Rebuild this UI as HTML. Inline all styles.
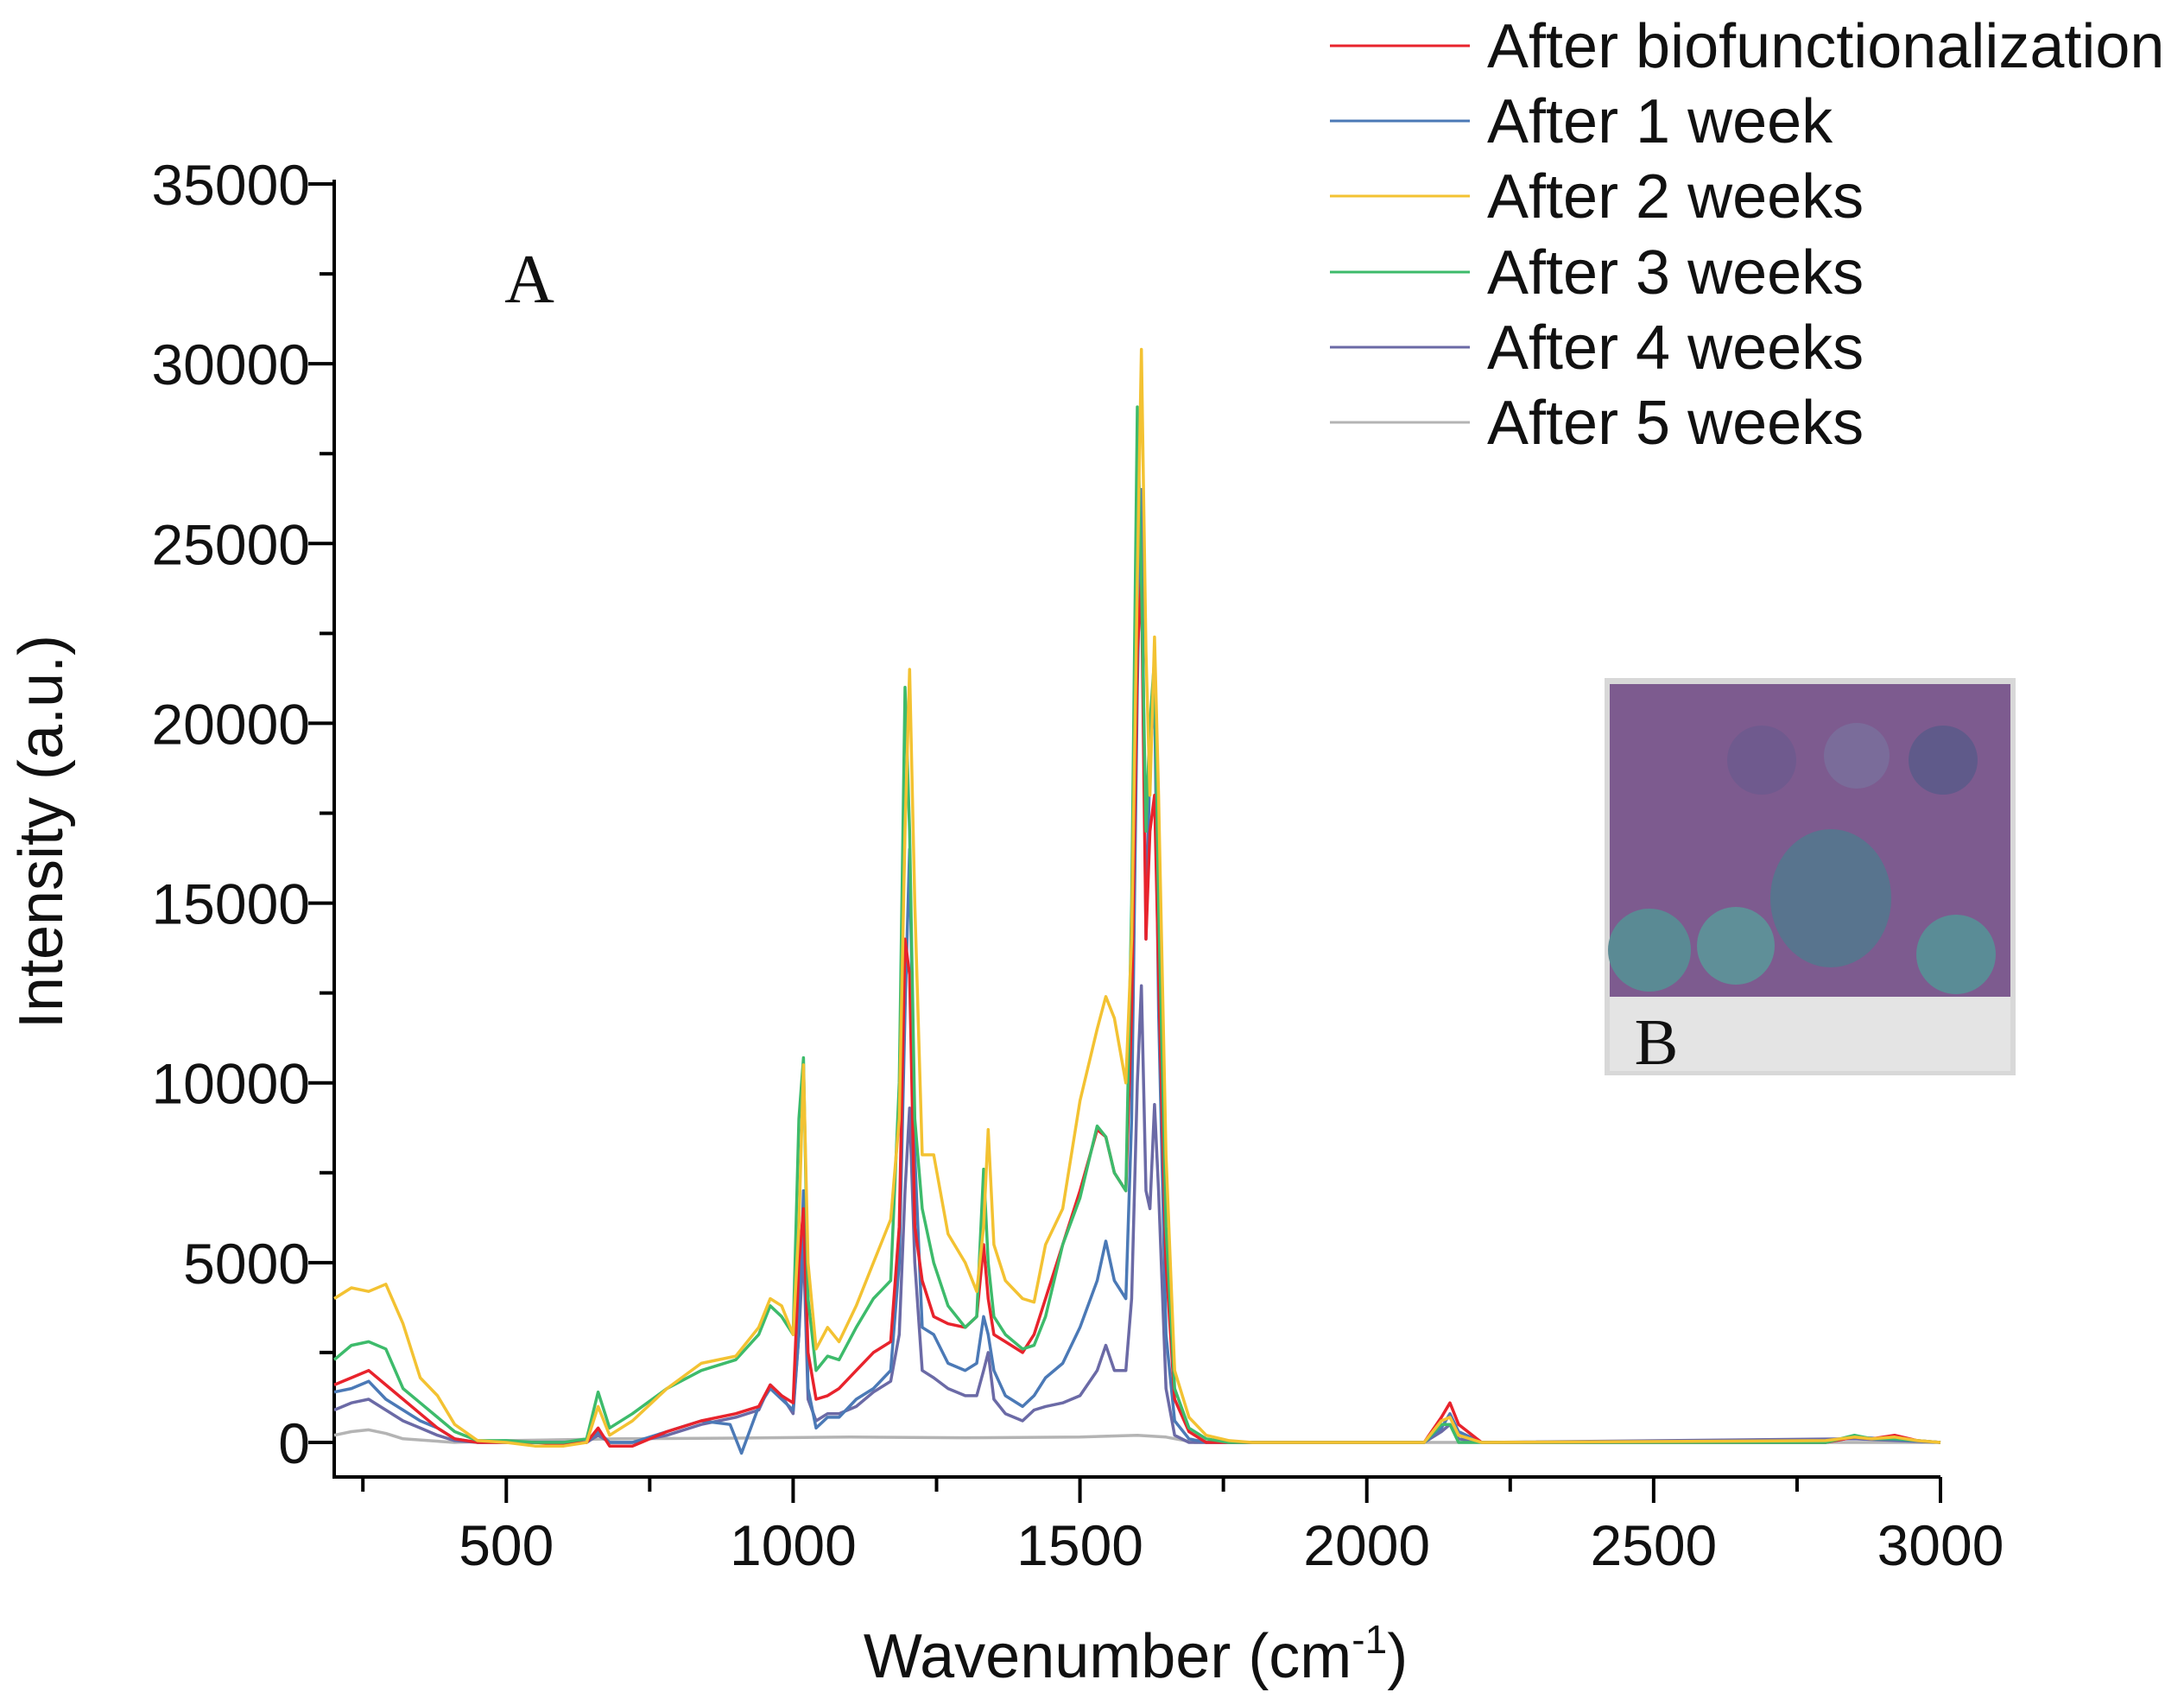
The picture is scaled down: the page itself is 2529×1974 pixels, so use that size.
<!DOCTYPE html>
<html><head><meta charset="utf-8"><style>
html,body{margin:0;padding:0;background:#fff;}
svg{display:block;font-family:"Liberation Sans",sans-serif;}
</style></head><body>
<svg id="chart" width="2529" height="1974" viewBox="0 0 2529 1974" xmlns="http://www.w3.org/2000/svg">
<g id="axes"></g>
<g id="series"></g>
<text x="613" y="350" font-family="Liberation Serif,serif" font-size="80" fill="#111" text-anchor="middle">A</text>
<g>
  <rect x="1858" y="785" width="476" height="460" fill="#d8d8d8"/>
  <rect x="1864" y="792" width="464" height="362" fill="#7d5b8f"/>
  <circle cx="2040" cy="880" r="40" fill="#6f5a8e"/>
  <circle cx="2150" cy="875" r="38" fill="#7a6c9a"/>
  <circle cx="2250" cy="880" r="40" fill="#5f5a8a"/>
  <ellipse cx="2120" cy="1040" rx="70" ry="80" fill="#4f7a8d" opacity="0.8"/>
  <circle cx="1910" cy="1100" r="48" fill="#5a8a94"/>
  <circle cx="2010" cy="1095" r="45" fill="#5f8f98"/>
  <circle cx="2265" cy="1105" r="46" fill="#5a8c96"/>
  <rect x="1864" y="1154" width="464" height="86" fill="#e4e4e4"/>
  <text x="1918" y="1232" font-family="Liberation Serif,serif" font-size="76" fill="#111" text-anchor="middle">B</text>
</g>
<g id="legend"></g>
</svg>
<script>
const xTicks = [500,1000,1500,2000,2500,3000];
const yTicks = [0,5000,10000,15000,20000,25000,30000,35000];
const seriesNames = ["After biofunctionalization","After 1 week","After 2 weeks","After 3 weeks","After 4 weeks","After 5 weeks"];
const seriesColors = ["#e8232c","#4b79b6","#f3c232","#3dbb6b","#6b6aa6","#b4b4b4"];

const biofunc = [[200,1600],[230,1800],[260,2000],[290,1600],[320,1200],[350,800],[380,400],[410,100],[450,0],[500,0],[550,0],[600,-50],[640,0],[660,400],[680,-100],[720,-100],[780,300],[840,600],[900,800],[940,1000],[960,1600],[980,1300],[1000,1100],[1010,5000],[1018,6500],[1026,2500],[1040,1200],[1060,1300],[1080,1500],[1110,2000],[1140,2500],[1170,2800],[1185,6000],[1195,14000],[1203,13000],[1212,6000],[1225,4500],[1245,3500],[1270,3300],[1300,3200],[1320,3500],[1332,5500],[1340,4000],[1350,3000],[1370,2800],[1400,2500],[1420,3000],[1440,4000],[1470,5500],[1500,7000],[1530,8700],[1545,8500],[1560,7500],[1580,7000],[1590,12000],[1600,22000],[1607,24000],[1615,14000],[1622,17000],[1630,18000],[1637,13000],[1650,5000],[1665,1200],[1690,300],[1720,0],[1900,0],[2100,0],[2130,700],[2145,1100],[2160,500],[2200,0],[2800,0],[2850,150],[2880,100],[2920,200],[2960,50],[3000,0]];
const week1 = [[200,1400],[230,1500],[260,1700],[290,1200],[320,900],[350,600],[380,400],[410,100],[450,0],[500,0],[550,0],[600,0],[640,0],[660,300],[680,0],[720,0],[780,300],[840,600],[890,500],[910,-300],[940,1000],[960,1500],[980,1200],[1000,900],[1010,3000],[1018,7000],[1026,1500],[1040,400],[1060,700],[1080,700],[1110,1200],[1140,1500],[1170,2000],[1185,5000],[1195,12000],[1203,16500],[1212,8000],[1225,3200],[1245,3000],[1270,2200],[1300,2000],[1320,2200],[1332,3500],[1340,3000],[1350,2000],[1370,1300],[1400,1000],[1420,1300],[1440,1800],[1470,2200],[1500,3200],[1530,4500],[1545,5600],[1560,4500],[1580,4000],[1590,9000],[1600,21000],[1607,26500],[1615,14000],[1622,19000],[1630,21000],[1637,12000],[1650,3000],[1665,600],[1690,100],[1720,0],[2100,0],[2130,400],[2145,800],[2160,300],[2200,0],[2800,0],[2850,150],[2900,100],[3000,0]];
const week2 = [[200,4000],[230,4300],[260,4200],[290,4400],[320,3300],[350,1800],[380,1300],[410,500],[450,50],[500,0],[550,-100],[600,-100],[640,0],[660,1000],[680,200],[720,600],[780,1500],[840,2200],[900,2400],[940,3200],[960,4000],[980,3800],[1000,3000],[1010,6000],[1018,10500],[1026,5000],[1040,2600],[1060,3200],[1080,2800],[1110,3800],[1140,5000],[1170,6200],[1185,9000],[1195,17000],[1203,21500],[1212,15000],[1225,8000],[1245,8000],[1270,5800],[1300,5000],[1320,4200],[1332,6000],[1340,8700],[1350,5500],[1370,4500],[1400,4000],[1420,3900],[1440,5500],[1470,6500],[1500,9500],[1530,11500],[1545,12400],[1560,11800],[1580,10000],[1590,14000],[1600,24000],[1607,30400],[1615,22000],[1622,18000],[1630,22400],[1637,18000],[1650,8000],[1665,2000],[1690,700],[1720,200],[1760,50],[1800,0],[2100,0],[2130,600],[2145,700],[2160,200],[2200,0],[2800,50],[2850,150],[2880,100],[2920,150],[2960,50],[3000,0]];
const week3 = [[200,2300],[230,2700],[260,2800],[290,2600],[320,1500],[350,1100],[380,700],[410,300],[450,50],[500,50],[550,0],[600,0],[640,100],[660,1400],[680,400],[720,800],[780,1500],[840,2000],[900,2300],[940,3000],[960,3800],[980,3500],[1000,3000],[1010,9000],[1018,10700],[1026,4000],[1040,2000],[1060,2400],[1080,2300],[1110,3200],[1140,4000],[1170,4500],[1185,10000],[1195,21000],[1203,17000],[1212,9000],[1225,6500],[1245,5000],[1270,3800],[1300,3200],[1320,3500],[1332,7600],[1340,5000],[1350,3500],[1370,3000],[1400,2600],[1420,2700],[1440,3500],[1470,5500],[1500,6800],[1530,8800],[1545,8500],[1560,7500],[1580,7000],[1590,15000],[1600,28800],[1607,24000],[1615,17000],[1622,20000],[1630,21800],[1637,15000],[1650,6000],[1665,1500],[1690,400],[1720,100],[1760,0],[2100,0],[2130,500],[2145,500],[2160,0],[2800,0],[2850,200],[2880,100],[2920,100],[3000,0]];
const week4 = [[200,900],[230,1100],[260,1200],[290,900],[320,600],[350,400],[380,200],[410,50],[450,0],[500,0],[600,0],[640,0],[660,200],[680,0],[720,0],[780,200],[840,500],[900,700],[940,900],[960,1600],[980,1300],[1000,800],[1010,3000],[1018,5500],[1026,1200],[1040,600],[1060,800],[1080,800],[1110,1000],[1140,1400],[1170,1700],[1185,3000],[1195,7000],[1203,9300],[1212,5000],[1225,2000],[1245,1800],[1270,1500],[1300,1300],[1320,1300],[1332,2000],[1340,2500],[1350,1200],[1370,800],[1400,600],[1420,900],[1440,1000],[1470,1100],[1500,1300],[1530,2000],[1545,2700],[1560,2000],[1580,2000],[1590,4000],[1600,10000],[1607,12700],[1615,7000],[1622,6500],[1630,9400],[1637,7000],[1650,1500],[1665,200],[1690,0],[2100,0],[2130,300],[2145,500],[2160,100],[2200,0],[2850,100],[3000,0]];
const week5 = [[200,200],[230,300],[260,350],[290,250],[320,100],[410,0],[500,50],[700,100],[900,120],[1100,150],[1300,130],[1500,150],[1600,200],[1650,150],[1700,0],[3000,0]];

const allSeries = [biofunc, week1, week2, week3, week4, week5];
const NS = "http://www.w3.org/2000/svg";
const X0 = 387, X1 = 2247, Y0 = 1670, Y35 = 213;
function xs(v){ return X0 + (v - 200) * (X1 - X0) / 2800; }
function ys(v){ return Y0 - v * (Y0 - Y35) / 35000; }
function mk(tag, attrs, parent){ const e = document.createElementNS(NS, tag); for (const k in attrs) e.setAttribute(k, attrs[k]); parent.appendChild(e); return e; }

const axes = document.getElementById('axes');
let ya = mk('line', {x1:X0, y1:Y35-5, x2:X0, y2:1712, stroke:'#000', 'stroke-width':4}, axes);


let xa = mk('line', {x1:X0-2, y1:1710, x2:X1, y2:1710, stroke:'#000', 'stroke-width':4}, axes);



for (let v = 250; v <= 3000; v += 250) {
  const major = v % 500 === 0;
  const t = mk('line', {x1:xs(v), y1:1710, x2:xs(v), y2:major?1740:1727, stroke:'#000', 'stroke-width':4}, axes);
  
  
}
xTicks.forEach(v => {
  const t = mk('text', {x:xs(v), y:1812, 'font-size':66, 'text-anchor':'middle', fill:'#111'}, axes);
  t.textContent = v;
  
  
});
for (let v = 0; v <= 35000; v += 2500) {
  const major = v % 5000 === 0;
  const t = mk('line', {x1:major?357:370, y1:ys(v), x2:X0, y2:ys(v), stroke:'#000', 'stroke-width':4}, axes);
  
  
}
yTicks.forEach(v => {
  const t = mk('text', {x:359, y:ys(v)+24, 'font-size':66, 'text-anchor':'end', fill:'#111'}, axes);
  t.textContent = v;
  
  
});
const yt = mk('text', {x:0, y:0, 'font-size':72, 'text-anchor':'middle', fill:'#111', transform:'translate(72,963) rotate(-90)'}, axes);
yt.textContent = 'Intensity (a.u.)';


const xt = mk('text', {x:1315, y:1942, 'font-size':72, 'text-anchor':'middle', fill:'#111'}, axes);
xt.innerHTML = 'Wavenumber (cm<tspan dy="-28" font-size="46">-1</tspan><tspan dy="28">)</tspan>';



const sg = document.getElementById('series');
const order = [5,4,1,0,3,2];
order.forEach(i => {
  const d = allSeries[i].map((p, j) => (j ? 'L' : 'M') + xs(p[0]).toFixed(1) + ' ' + ys(p[1]).toFixed(1)).join(' ');
  const p = mk('path', {d:d, fill:'none', stroke:seriesColors[i], 'stroke-width':3.5, 'stroke-linejoin':'round'}, sg);
  
  
});

const lg = document.getElementById('legend');
const rowsY = [53,140,227,315,402,489];
seriesNames.forEach((n, i) => {
  const l = mk('line', {x1:1540, y1:rowsY[i], x2:1702, y2:rowsY[i], stroke:seriesColors[i], 'stroke-width':3}, lg);
  
  
  const t = mk('text', {x:1722, y:rowsY[i]+25, 'font-size':72, fill:'#111'}, lg);
  t.textContent = n;
  
  
});
</script>
</body></html>
